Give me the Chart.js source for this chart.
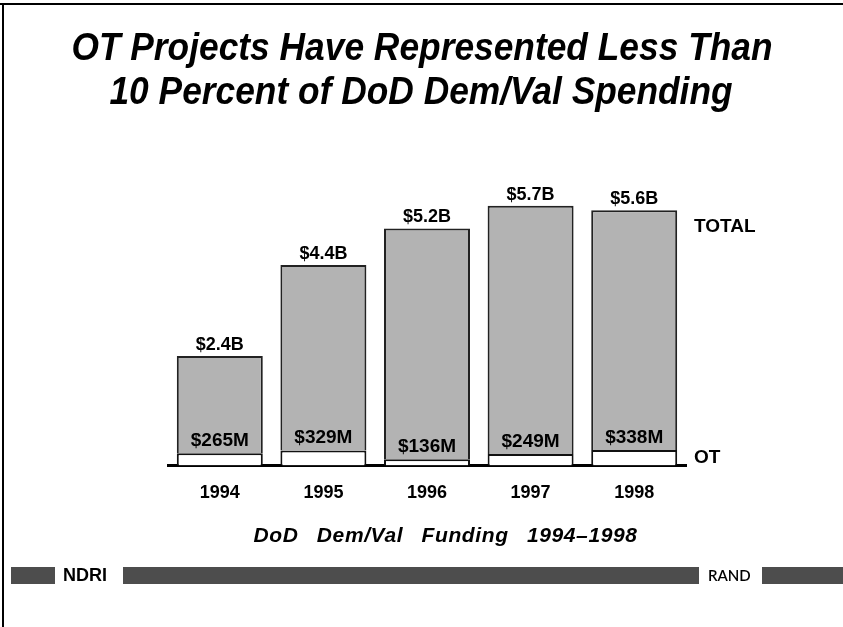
<!DOCTYPE html>
<html>
<head>
<meta charset="utf-8">
<script src="https://cdn.jsdelivr.net/npm/chart.js@4.4.0/dist/chart.umd.min.js"></script>
<style>
  html, body { margin: 0; padding: 0; background: #fff; }
  #page { position: relative; width: 843px; height: 627px; overflow: hidden; font-family: "Liberation Sans", Arial, sans-serif; }
  #chart { position: absolute; left: 0; top: 0; }
  .frame-top { position: absolute; left: 0; top: 3px; width: 843px; height: 2px; background: #000; }
  .frame-left { position: absolute; left: 2px; top: 3px; width: 2px; height: 624px; background: #000; }
  .title { position: absolute; left: 0; width: 843px; text-align: center; font-weight: bold; font-style: italic; color: #000; white-space: nowrap; }
  .title span { display: inline-block; transform: scaleX(0.93); transform-origin: center; }
  #t1 { top: 26px; font-size: 38px; }
  #t2 { top: 70px; font-size: 38px; }
  #sub { position: absolute; left: 0; width: 891px; top: 523px; text-align: center; font-weight: bold; font-style: italic; font-size: 21px; word-spacing: 12px; letter-spacing: 0.6px; }
  .band { position: absolute; top: 567px; height: 17px; background: #4d4d4d; }
  .foot { position: absolute; top: 565px; font-size: 18px; line-height: 21px; }
</style>
</head>
<body>
<div id="page">
  <canvas id="chart" width="843" height="627"></canvas>
  <div class="frame-top"></div>
  <div class="frame-left"></div>
  <div class="title" id="t1"><span>OT Projects Have Represented Less Than</span></div>
  <div class="title" id="t2"><span>10 Percent of DoD Dem/Val Spending</span></div>
  <div id="sub">DoD Dem/Val Funding 1994–1998</div>
  <div class="band" style="left:11px;width:44px"></div>
  <div class="foot" style="left:63px;font-weight:bold">NDRI</div>
  <div class="band" style="left:123px;width:576px"></div>
  <div class="foot" style="left:708px;font-family:Lato,sans-serif;font-weight:600;font-size:15px">RAND</div>
  <div class="band" style="left:762px;width:81px"></div>
</div>
<script>
const years = ["1994", "1995", "1996", "1997", "1998"];
const totalB = [2.4, 4.4, 5.2, 5.7, 5.6];
const otM = [265, 329, 136, 249, 338];

const otB = otM.map((v) => v / 1000);
const restB = totalB.map((v, i) => v - otB[i]);

const barLabels = {
  id: "barLabels",
  afterDatasetsDraw(chart) {
    const ctx = chart.ctx;
    const otBars = chart.getDatasetMeta(0).data;
    const restBars = chart.getDatasetMeta(1).data;
    ctx.save();
    ctx.fillStyle = "#000";
    ctx.textAlign = "center";
    ctx.textBaseline = "alphabetic";
    ctx.font = "bold 18px 'Liberation Sans', Arial, sans-serif";
    restBars.forEach((bar, i) => {
      ctx.fillText("$" + totalB[i].toFixed(1) + "B", bar.x, bar.y - 6);
    });
    ctx.font = "bold 19px 'Liberation Sans', Arial, sans-serif";
    otBars.forEach((bar, i) => {
      ctx.fillText("$" + otM[i] + "M", bar.x, bar.y - 7);
    });
    // series names to the right of the last bar
    const area = chart.chartArea;
    const last = restBars[restBars.length - 1];
    ctx.textAlign = "left";
    ctx.textBaseline = "middle";
    ctx.fillText("TOTAL", area.right + 8, last.y + 17);
    ctx.fillText("OT", area.right + 8, area.bottom - 8);
    ctx.restore();
  },
};

new Chart(document.getElementById("chart"), {
  type: "bar",
  data: {
    labels: years,
    datasets: [
      {
        label: "OT",
        data: otB,
        backgroundColor: "#ffffff",
        borderColor: "#111",
        borderWidth: 2,
        borderSkipped: "bottom",
      },
      {
        label: "Total",
        data: restB,
        backgroundColor: "#b3b3b3",
        borderColor: "#222",
        borderWidth: 2,
        borderSkipped: "bottom",
      },
    ],
  },
  options: {
    responsive: false,
    animation: false,
    layout: { padding: { left: 168, right: 157, top: 192, bottom: 106 } },
    plugins: { legend: { display: false }, tooltip: { enabled: false } },
    datasets: { bar: { categoryPercentage: 1, barPercentage: 0.83 } },
    scales: {
      x: {
        stacked: true,
        grid: { display: false, drawTicks: false },
        border: { display: true, color: "#000", width: 3 },
        ticks: {
          color: "#000",
          padding: 17,
          font: { family: "'Liberation Sans', Arial, sans-serif", size: 18, weight: "bold" },
        },
      },
      y: { stacked: true, display: false, min: 0, max: 6 },
    },
  },
  plugins: [barLabels],
});
</script>
</body>
</html>
